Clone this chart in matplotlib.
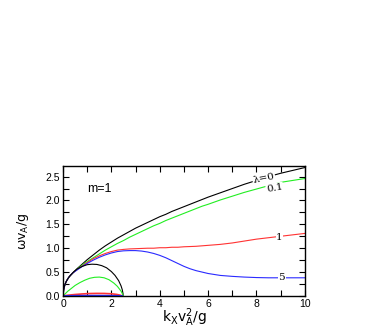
import numpy as np
from matplotlib import pyplot as plt
from matplotlib.ticker import MultipleLocator

# %% Data.
# Upper branches (lambda = 0, 0.1, 1, 5):
x_up = [0, 0.03, 0.08, 0.15, 0.25, 0.4, 0.6, 0.8, 1.0, 1.25, 1.5, 1.75, 2.0,
        2.25, 2.5, 2.75, 3.0, 3.25, 3.5, 3.75, 4.0, 4.25, 4.5, 4.75, 5.0,
        5.25, 5.5, 5.75, 6.0, 6.5, 7.0, 7.5, 8.0, 8.5, 9.0, 9.5, 10.0]
y_l0 = [0, 0.14, 0.24, 0.32, 0.40, 0.48, 0.58, 0.67, 0.76, 0.86, 0.96, 1.05,
        1.13, 1.21, 1.28, 1.35, 1.42, 1.48, 1.54, 1.60, 1.66, 1.71, 1.77,
        1.82, 1.87, 1.92, 1.97, 2.02, 2.07, 2.16, 2.25, 2.34, 2.42, 2.50,
        2.57, 2.63, 2.69]
y_l01 = [0, 0.14, 0.24, 0.32, 0.40, 0.48, 0.57, 0.65, 0.72, 0.80, 0.88, 0.96,
         1.03, 1.10, 1.16, 1.23, 1.29, 1.35, 1.41, 1.47, 1.52, 1.58, 1.63,
         1.68, 1.73, 1.78, 1.83, 1.88, 1.92, 2.01, 2.09, 2.17, 2.24, 2.31,
         2.38, 2.42, 2.46]
y_l1 = [0, 0.14, 0.24, 0.32, 0.40, 0.48, 0.56, 0.63, 0.70, 0.78, 0.84, 0.89,
        0.93, 0.96, 0.975, 0.985, 0.99, 0.995, 1.0, 1.0, 1.01, 1.01, 1.02,
        1.02, 1.03, 1.035, 1.04, 1.05, 1.06, 1.08, 1.11, 1.15, 1.19, 1.22,
        1.25, 1.28, 1.31]
y_l5 = [0, 0.14, 0.24, 0.32, 0.40, 0.48, 0.55, 0.62, 0.68, 0.75, 0.81, 0.86,
        0.90, 0.93, 0.945, 0.95, 0.95, 0.94, 0.92, 0.89, 0.85, 0.80, 0.74,
        0.68, 0.62, 0.57, 0.53, 0.50, 0.47, 0.43, 0.41, 0.395, 0.385, 0.38,
        0.38, 0.38, 0.38]

# Lower branches:
x_b = [0, 0.02, 0.06, 0.12, 0.2, 0.3, 0.45, 0.6, 0.8, 1.0, 1.2, 1.4, 1.6,
       1.8, 2.0, 2.15, 2.3, 2.4, 2.45, 2.48, 2.49]
y_b = [0, 0.12, 0.21, 0.29, 0.36, 0.43, 0.51, 0.57, 0.62, 0.655, 0.665,
       0.66, 0.635, 0.59, 0.51, 0.43, 0.32, 0.21, 0.13, 0.05, 0]
x_g = [0, 0.1, 0.2, 0.35, 0.5, 0.7, 0.9, 1.1, 1.3, 1.5, 1.7, 1.9, 2.1, 2.25,
       2.4, 2.5]
y_g = [0, 0.05, 0.10, 0.16, 0.22, 0.28, 0.33, 0.37, 0.39, 0.395, 0.38, 0.34,
       0.27, 0.20, 0.10, 0]
x_r = [0, 0.2, 0.5, 0.8, 1.1, 1.4, 1.7, 2.0, 2.2, 2.35, 2.45]
y_r = [0, 0.015, 0.03, 0.042, 0.05, 0.053, 0.052, 0.045, 0.033, 0.018, 0]
x_bl = [0, 0.5, 1.0, 1.5, 2.0, 2.45]
y_bl = [0, 0.005, 0.007, 0.007, 0.005, 0]

labels = ['\u03bb=0', '0.1', '1', '5']
lab_x = [8.3, 8.75, 8.95, 9.05]
lab_y = [2.47, 2.26, 1.23, 0.38]
lab_rot = [11, 10, 0, 0]

# %% Plot.
c_blk, c_grn, c_red, c_blu = 'k', '#22ee22', '#ff3333', '#2a2aff'

fig = plt.figure(figsize=(3.82, 3.27), dpi=100)
ax = fig.add_axes([0.165, 0.095, 0.633, 0.397])

ax.plot(x_up, y_l0, color=c_blk, lw=0.8)
ax.plot(x_up, y_l01, color=c_grn, lw=0.8)
ax.plot(x_up, y_l1, color=c_red, lw=0.8)
ax.plot(x_up, y_l5, color=c_blu, lw=0.8)
ax.plot(x_b, y_b, color=c_blk, lw=0.8)
ax.plot(x_g, y_g, color=c_grn, lw=0.8)
ax.plot(x_r, y_r, color=c_red, lw=1.2)
ax.plot(x_bl, y_bl, color=c_blu, lw=1.2)

for t, x, y, r in zip(labels, lab_x, lab_y, lab_rot):
    ax.text(x, y, t, family='DejaVu Serif', fontsize=7.5, rotation=r,
            ha='center', va='center',
            bbox=dict(boxstyle='square,pad=0.05', fc='white', ec='none'))

ax.text(1.0, 2.25, 'm=1', fontsize=9, family='Liberation Sans', va='center')

# Axes:
ax.set_xlim(0, 10)
ax.set_ylim(0, 2.72)
ax.xaxis.set_major_locator(MultipleLocator(2))
ax.xaxis.set_minor_locator(MultipleLocator(1))
ax.yaxis.set_major_locator(MultipleLocator(0.5))
ax.yaxis.set_minor_locator(MultipleLocator(0.25))
ax.tick_params(which='both', direction='in', top=True, right=True,
               labelsize=7.5, pad=2.5)
ax.tick_params(axis='x', pad=2)
ax.tick_params(which='major', length=4, width=0.8)
ax.tick_params(which='minor', length=4, width=0.8)
ax.yaxis.set_major_formatter(plt.FormatStrFormatter('%.1f'))
for lab in ax.get_xticklabels() + ax.get_yticklabels():
    lab.set_family('Liberation Sans')
for s in ax.spines.values():
    s.set_linewidth(1.0)

ax.set_xlabel(r'$\mathregular{k_X v_A^2/g}$', fontsize=10, labelpad=-2)
ax.set_ylabel(r'$\mathregular{\omega v_A/g}$', fontsize=9, labelpad=10)

plt.savefig('out.png', dpi=100)
